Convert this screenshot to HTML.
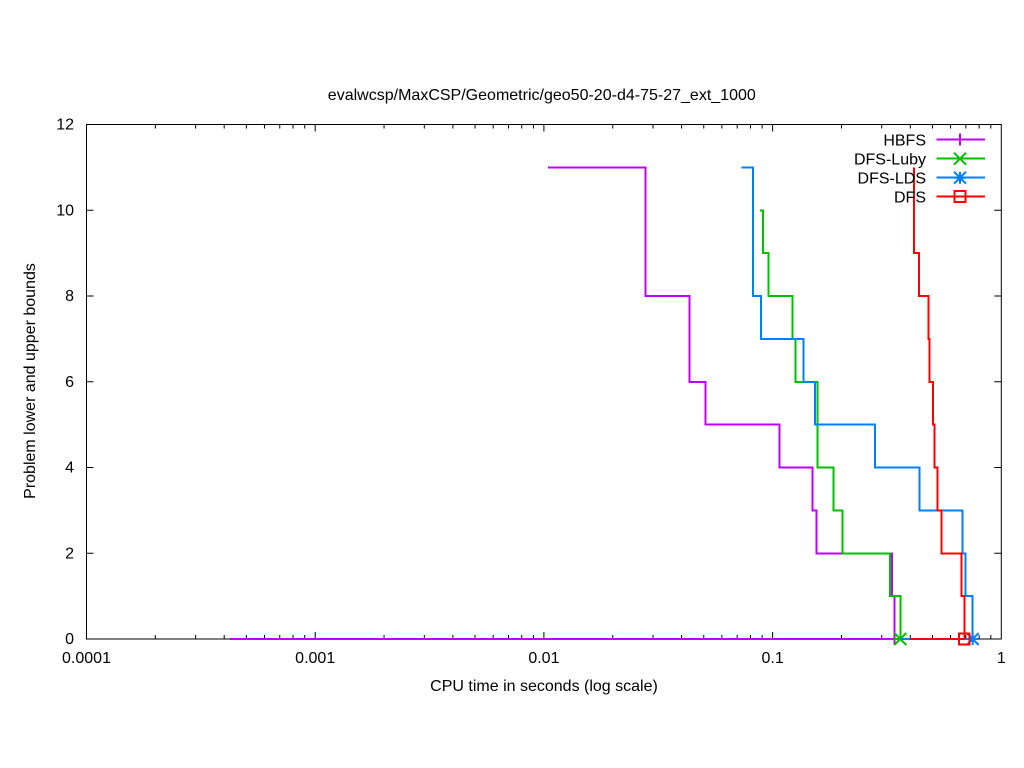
<!DOCTYPE html>
<html>
<head>
<meta charset="utf-8">
<style>
html,body{margin:0;padding:0;background:#fff;}
svg{display:block;}
text{font-family:"Liberation Sans",Arial,sans-serif;font-size:16px;fill:#000;}
</style>
</head>
<body>
<svg width="1024" height="768" viewBox="0 0 1024 768" xmlns="http://www.w3.org/2000/svg">
<rect x="0" y="0" width="1024" height="768" fill="#fff"/>

<!-- title -->
<text x="541.8" y="100" text-anchor="middle" textLength="428" lengthAdjust="spacingAndGlyphs">evalwcsp/MaxCSP/Geometric/geo50-20-d4-75-27_ext_1000</text>

<!-- axis labels -->
<text x="544" y="691" text-anchor="middle">CPU time in seconds (log scale)</text>
<text transform="translate(35,381) rotate(-90)" text-anchor="middle">Problem lower and upper bounds</text>

<!-- y tick labels -->
<g text-anchor="end">
<text x="74" y="644">0</text>
<text x="74" y="558.3">2</text>
<text x="74" y="472.5">4</text>
<text x="74" y="386.8">6</text>
<text x="74" y="301">8</text>
<text x="74" y="215.3">10</text>
<text x="74" y="129.5">12</text>
</g>

<!-- x tick labels -->
<g text-anchor="middle">
<text x="86.5" y="663">0.0001</text>
<text x="315.2" y="663">0.001</text>
<text x="543.9" y="663">0.01</text>
<text x="772.6" y="663">0.1</text>
<text x="1001.3" y="663">1</text>
</g>

<!-- ticks -->
<g stroke="#000" stroke-width="1" fill="none">
<path d="M86.5,553.25h7 M86.5,467.5h7 M86.5,381.75h7 M86.5,296h7 M86.5,210.25h7
         M1001.3,553.25h-7 M1001.3,467.5h-7 M1001.3,381.75h-7 M1001.3,296h-7 M1001.3,210.25h-7"/>
<path d="M315.2,639v-7 M543.9,639v-7 M772.6,639v-7
         M315.2,124.5v7 M543.9,124.5v7 M772.6,124.5v7"/>
<path d="
M155.35,639v-4 M195.62,639v-4 M224.19,639v-4 M246.36,639v-4 M264.46,639v-4 M279.77,639v-4 M293.04,639v-4 M304.73,639v-4
M384.05,639v-4 M424.32,639v-4 M452.89,639v-4 M475.06,639v-4 M493.16,639v-4 M508.47,639v-4 M521.74,639v-4 M533.43,639v-4
M612.75,639v-4 M653.02,639v-4 M681.59,639v-4 M703.76,639v-4 M721.86,639v-4 M737.17,639v-4 M750.44,639v-4 M762.13,639v-4
M841.45,639v-4 M881.72,639v-4 M910.29,639v-4 M932.46,639v-4 M950.56,639v-4 M965.87,639v-4 M979.14,639v-4 M990.83,639v-4
"/>
<path d="
M155.35,124.5v4 M195.62,124.5v4 M224.19,124.5v4 M246.36,124.5v4 M264.46,124.5v4 M279.77,124.5v4 M293.04,124.5v4 M304.73,124.5v4
M384.05,124.5v4 M424.32,124.5v4 M452.89,124.5v4 M475.06,124.5v4 M493.16,124.5v4 M508.47,124.5v4 M521.74,124.5v4 M533.43,124.5v4
M612.75,124.5v4 M653.02,124.5v4 M681.59,124.5v4 M703.76,124.5v4 M721.86,124.5v4 M737.17,124.5v4 M750.44,124.5v4 M762.13,124.5v4
M841.45,124.5v4 M881.72,124.5v4 M910.29,124.5v4 M932.46,124.5v4 M950.56,124.5v4 M965.87,124.5v4 M979.14,124.5v4 M990.83,124.5v4
"/>
<rect x="86.5" y="124.5" width="914.8" height="514.5"/>
</g>

<!-- HBFS (purple) -->
<g stroke="#c000ff" stroke-width="2" fill="none">
<g shape-rendering="crispEdges">
<path d="M230,639 H894.3"/>
<path d="M548,167.4 H645.3 V296 H689.3 V381.75 H705.3 V424.6 H779.3 V467.5 H812.3 V510.4 H816.7 V553.25 H892 V596.1 H894.3 V639"/>
<path d="M888.3,639 H900.3 M894.3,633 V645"/>
</g>
</g>

<!-- DFS-Luby (green) -->
<g stroke="#00c000" stroke-width="2" fill="none">
<g shape-rendering="crispEdges">
<path d="M894,639 H900.3"/>
<path d="M760,210.25 H763 V253.1 H768.3 V296 H792.7 V338.9 H795.3 V381.75 H817.7 V467.5 H833.3 V510.4 H842.3 V553.25 H890 V596.1 H900.3 V639"/>
</g>
<path d="M894.3,633 L906.3,645 M894.3,645 L906.3,633"/>
</g>

<!-- DFS-LDS (blue) -->
<g stroke="#0080ff" stroke-width="2" fill="none">
<g shape-rendering="crispEdges">
<path d="M900,639 H972.7"/>
<path d="M741.7,167.4 H753 V296 H761 V338.9 H803.3 V381.75 H815 V424.6 H875 V467.5 H919.3 V510.4 H962.7 V553.25 H965.3 V596.1 H972.7 V639"/>
</g>
<path d="M966.7,633 L978.7,645 M966.7,645 L978.7,633 M966.7,639 H978.7 M972.7,633 V645"/>
</g>

<!-- DFS (red) -->
<g stroke="#ff0000" stroke-width="2" fill="none">
<g shape-rendering="crispEdges">
<path d="M910,639 H964.3"/>
<path d="M914,167.4 V253.1 H919 V296 H928.3 V338.9 H929.7 V381.75 H933 V424.6 H934.3 V467.5 H937.3 V510.4 H941.3 V553.25 H961.7 V596.1 H964.3 V639"/>
<rect x="959" y="633.5" width="10.6" height="11"/>
</g>
</g>

<!-- legend -->
<g text-anchor="end">
<text x="926" y="145.3">HBFS</text>
<text x="926" y="164.3">DFS-Luby</text>
<text x="926" y="183.3">DFS-LDS</text>
<text x="926" y="202.3">DFS</text>
</g>
<g stroke-width="2" fill="none">
<g stroke="#c000ff">
<path d="M936.7,139.7 H985" shape-rendering="crispEdges"/>
<path d="M954,139.7 H966 M960,133.7 V145.7" shape-rendering="crispEdges"/>
</g>
<g stroke="#00c000">
<path d="M936.7,158.7 H985" shape-rendering="crispEdges"/>
<path d="M954,152.7 L966,164.7 M954,164.7 L966,152.7"/>
</g>
<g stroke="#0080ff">
<path d="M936.7,177.7 H985" shape-rendering="crispEdges"/>
<path d="M954,171.7 L966,183.7 M954,183.7 L966,171.7 M954,177.7 H966 M960,171.7 V183.7"/>
</g>
<g stroke="#ff0000">
<path d="M936.7,196.7 H985" shape-rendering="crispEdges"/>
<rect x="954.7" y="191.2" width="10.6" height="11" shape-rendering="crispEdges"/>
</g>
</g>
</svg>
</body>
</html>
